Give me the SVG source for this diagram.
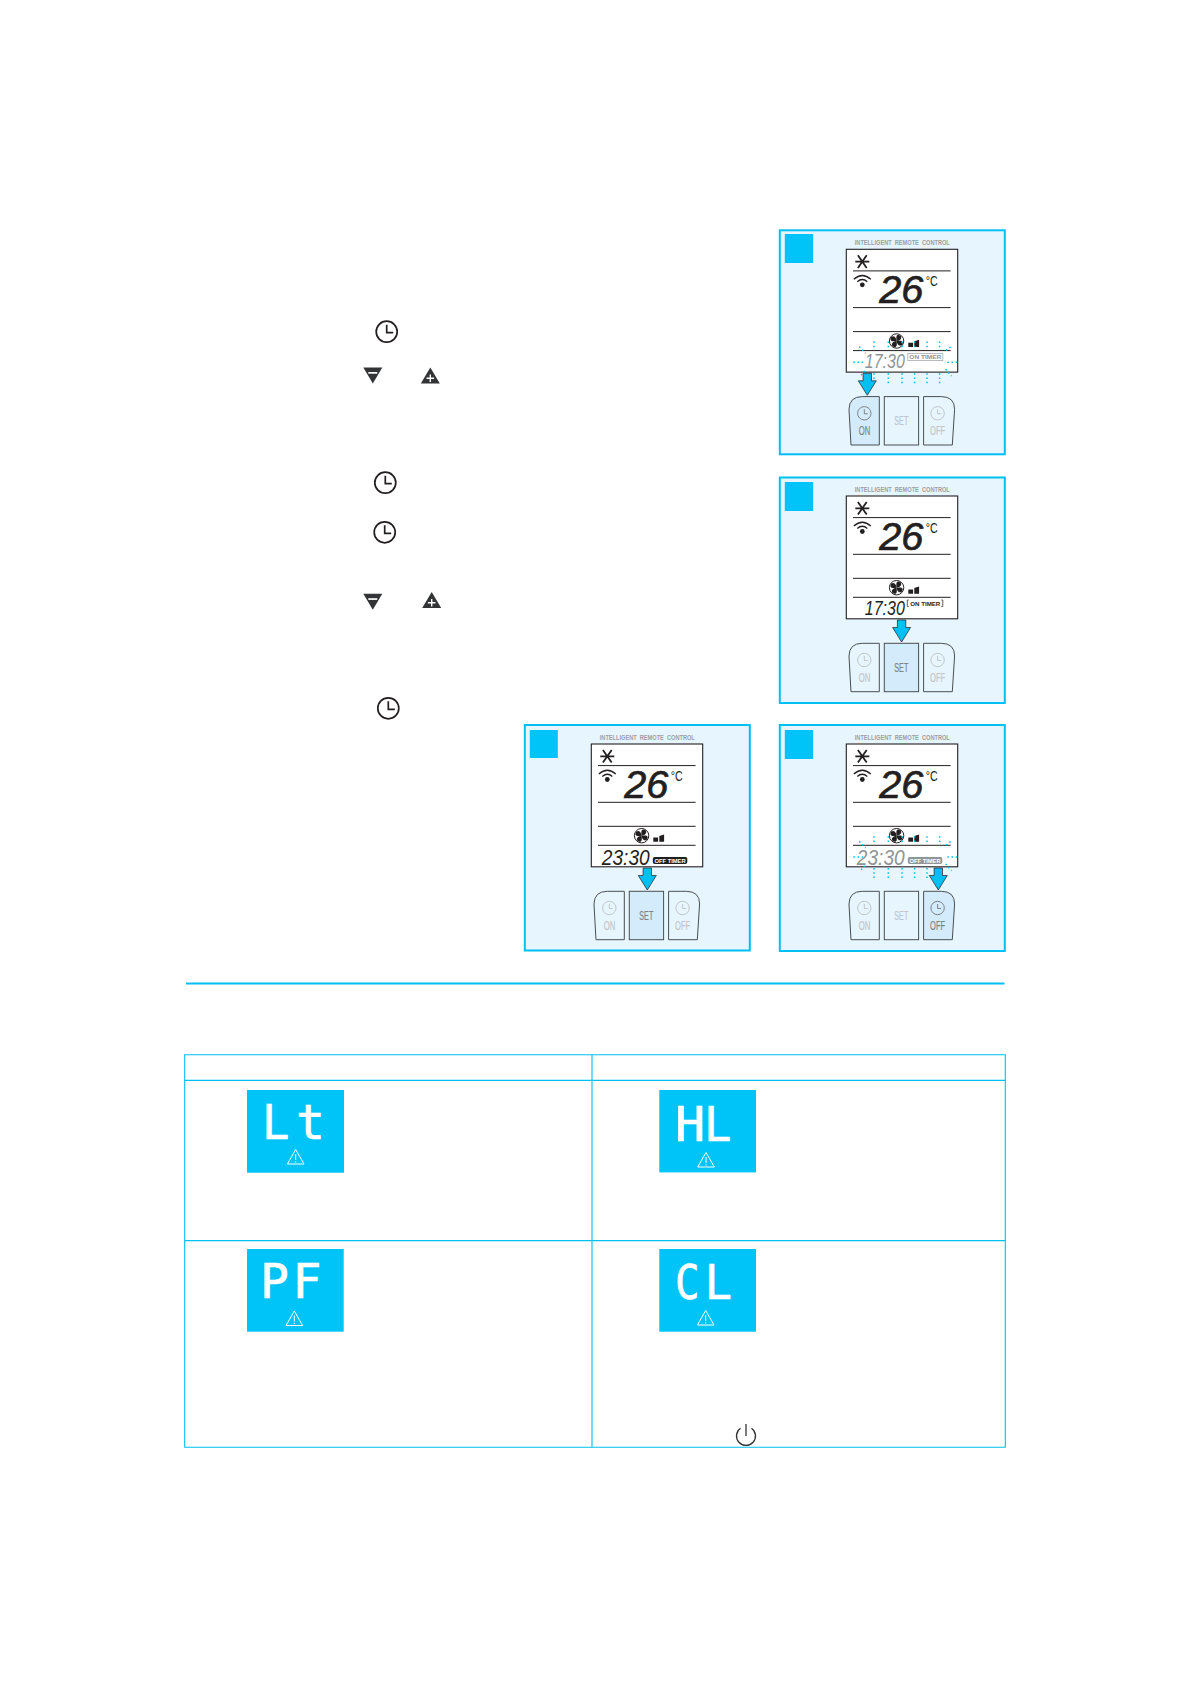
<svg xmlns="http://www.w3.org/2000/svg" width="1190" height="1684" viewBox="0 0 1190 1684">
<style>
text{font-family:"Liberation Sans","DejaVu Sans",sans-serif}
.panel{fill:#e7f5fe;stroke:#00bff3;stroke-width:2}
.sq{fill:#00c4f8}
.lcd{fill:#fff;stroke:#231f20;stroke-width:1.1}
.ln{stroke:#231f20;stroke-width:1;fill:none}
.title{font-size:7px;font-weight:bold;fill:#9a9fa3;text-anchor:middle;white-space:pre}
.temp{font-size:39px;font-style:italic;fill:#231f20;stroke:#231f20;stroke-width:.7}
.deg{font-size:14px;fill:#231f20}
.time{font-style:italic;fill:#231f20}
.off{fill:#8f9599}
.tlab{font-size:6px;font-weight:bold;text-anchor:middle}
.btn{stroke:#4a4f52;stroke-width:1;fill:#e7f5fe}
.act{fill:#d4ebfc}
.bt{font-size:12px;text-anchor:middle;fill:#c2c6c8;stroke:#c2c6c8;stroke-width:.2}
.bta{fill:#7d8387;stroke:#7d8387}
.clk{fill:none;stroke:#c2c6c8;stroke-width:1}
.clka{stroke:#7d8387}
.flash{stroke:#00bff3;stroke-width:1.5;stroke-dasharray:1.5 2.7;fill:none}
.arrow{fill:#00bff3;stroke:#231f20;stroke-width:.7}
.ic{fill:none;stroke:#231f20;stroke-width:1.7}
.tri{fill:#333436}
.grid{fill:none;stroke:#00bff3;stroke-width:1.1}
.disp{fill:#00c4f8}
.seg{font-family:"DejaVu Sans Mono",monospace;font-size:48px;fill:#fff;stroke:#fff;stroke-width:.7}
.warn{fill:none;stroke:#fff;stroke-width:1;stroke-linejoin:round}
</style>
<defs>
<path id="blade" d="M0 0C-1.5 -2.5 -3.5 -5.5 -0.5 -6.5C3.5 -7.3 4.5 -2.5 0 0Z"/>
<g id="lcd-base">
<rect class="lcd" x="0" y="0" width="111.4" height="122.8"/>
<text class="title" x="56" y="-4.3" textLength="95" lengthAdjust="spacingAndGlyphs">INTELLIGENT  REMOTE  CONTROL</text>
<path class="ln" d="M6.7 21.6H104.3M6.7 58.3H104.3M6.7 82.3H104.3M6.7 101.3H104.3"/>
<path d="M9 12.3H23M11.6 6L20.4 18.6M20.4 6L11.6 18.6" fill="none" stroke="#231f20" stroke-width="1.8"/>
<path d="M7.5 30Q16 22.5 24.5 30M11 32.5Q16 28 21 32.5" fill="none" stroke="#231f20" stroke-width="1.3"/>
<circle cx="16" cy="35.5" r="2.4" fill="#231f20"/>
<text class="temp" x="33" y="54" textLength="44" lengthAdjust="spacingAndGlyphs">26</text>
<text class="deg" x="79.5" y="37" textLength="12" lengthAdjust="spacingAndGlyphs">°C</text>
<circle cx="50.3" cy="91.7" r="7.2" fill="#fff" stroke="#231f20" stroke-width="1"/>
<g fill="#231f20" transform="translate(50.3 91.7)">
<use href="#blade" transform="rotate(25)"/>
<use href="#blade" transform="rotate(115)"/>
<use href="#blade" transform="rotate(205)"/>
<use href="#blade" transform="rotate(295)"/>
</g>
<path d="M62 93.5H66.8V97.8H62ZM68 92L72.8 90.5V97.8H68Z" fill="#231f20"/>
</g>
<path id="flash" class="flash" d="M27.7 92.3V100M42 92.3V100M55.7 92.3V100M68.3 92.3V100M80.7 92.3V100M93.3 92.3V100M27.7 124V134M42 124V134M55.7 124V134M68.3 124V134M80.7 124V134M93.3 124V134M7 113H18M101 113H112M13 97.3L19.3 104M104.3 97.7L98.7 102M18.7 121.7L13 127.7M99.3 120L105.3 126.7"/>
<path id="arr" class="arrow" d="M-4.2 124H4.2V131.5H9L0 146L-9 131.5H-4.2Z"/>
<g id="btn-on-shape"><path d="M33 147.3H16Q3 147.3 2.7 160L4.7 195.7H33Z"/></g>
<g id="btn-off-shape"><path d="M77.3 147.3H95Q108.3 147.3 108.3 160L106 195.7H77.3Z"/></g>
<g id="clockface"><circle r="6.7"/><path d="M0 -4V0.5H3.5"/></g>
<g id="ctl"><circle r="10.5" class="ic"/><path class="ic" d="M0 -7V1H6.5"/></g>
<g id="minus"><path class="tri" d="M-9.5 -8H9.5L0 8Z"/><rect x="-4.5" y="-3.5" width="9" height="1.7" fill="#fff"/></g>
<g id="plus"><path class="tri" d="M0 -8L9.5 8H-9.5Z"/><path d="M0 -1V6.5M-3.8 2.8H3.8" stroke="#fff" stroke-width="1.4"/></g>
<g id="warn"><path class="warn" d="M0 0L8.3 14.5H-8.3Z"/><path d="M0 4.5V10.5M0 11.8V13" stroke="#fff" stroke-width="1"/></g>
</defs>
<rect width="1190" height="1684" fill="#fff"/>

<g id="panel-1" transform="translate(846.3 249.3)">
<rect class="panel" x="-66.5" y="-19" width="225" height="224"/>
<rect class="sq" x="-61.5" y="-15.3" width="28.3" height="29"/>
<use href="#lcd-base"/>
<text class="time off" font-size="20" transform="translate(18.5 119) scale(.8 1)">17:30</text>
<rect x="61.5" y="104.3" width="35" height="7" fill="#fff" stroke="#a6abae" stroke-width=".8"/>
<text class="tlab off" x="79" y="110" textLength="32" lengthAdjust="spacingAndGlyphs">ON TIMER</text>
<use href="#flash"/>
<use href="#arr" x="21"/>
<use href="#btn-on-shape" class="btn act"/><use href="#btn-off-shape" class="btn"/><rect class="btn" x="38" y="147.3" width="34.3" height="48.4"/>
<use href="#clockface" x="18" y="164" class="clk clka"/><text class="bt bta" x="18.3" y="186" textLength="11.5" lengthAdjust="spacingAndGlyphs">ON</text>
<text class="bt" x="55" y="176" textLength="14" lengthAdjust="spacingAndGlyphs">SET</text>
<use href="#clockface" x="91.3" y="164" class="clk"/><text class="bt" x="91.3" y="186" textLength="15" lengthAdjust="spacingAndGlyphs">OFF</text>
</g>

<g id="panel-2" transform="translate(846.3 496)">
<rect class="panel" x="-66.5" y="-18.5" width="225" height="225.5"/>
<rect class="sq" x="-61.5" y="-14" width="28.3" height="29"/>
<use href="#lcd-base"/>
<text class="time" font-size="20" transform="translate(18.5 118.5) scale(.8 1)">17:30</text>
<path d="M62.5 104H61V110.5H62.5M95 104H96.5V110.5H95" fill="none" stroke="#231f20" stroke-width=".7"/>
<text class="tlab" fill="#231f20" x="79" y="110" textLength="30" lengthAdjust="spacingAndGlyphs">ON TIMER</text>
<use href="#arr" x="55.3"/>
<use href="#btn-on-shape" class="btn"/><use href="#btn-off-shape" class="btn"/><rect class="btn act" x="38" y="147.3" width="34.3" height="48.4"/>
<use href="#clockface" x="18" y="164" class="clk"/><text class="bt" x="18.3" y="186" textLength="11.5" lengthAdjust="spacingAndGlyphs">ON</text>
<text class="bt bta" x="55" y="176" textLength="14" lengthAdjust="spacingAndGlyphs">SET</text>
<use href="#clockface" x="91.3" y="164" class="clk"/><text class="bt" x="91.3" y="186" textLength="15" lengthAdjust="spacingAndGlyphs">OFF</text>
</g>

<g id="panel-3" transform="translate(591.3 744)">
<rect class="panel" x="-66.5" y="-19" width="225" height="225.5"/>
<rect class="sq" x="-61.5" y="-14" width="28" height="28"/>
<use href="#lcd-base"/>
<text class="time" font-size="22" transform="translate(10.5 121) scale(.87 1)">23:30</text>
<rect x="61.5" y="113" width="34.5" height="7" rx="2" fill="#231f20"/>
<text class="tlab" fill="#fff" x="78.8" y="118.9" textLength="31" lengthAdjust="spacingAndGlyphs">OFF TIMER</text>
<use href="#arr" x="56"/>
<use href="#btn-on-shape" class="btn"/><use href="#btn-off-shape" class="btn"/><rect class="btn act" x="38" y="147.3" width="34.3" height="48.4"/>
<use href="#clockface" x="18" y="164" class="clk"/><text class="bt" x="18.3" y="186" textLength="11.5" lengthAdjust="spacingAndGlyphs">ON</text>
<text class="bt bta" x="55" y="176" textLength="14" lengthAdjust="spacingAndGlyphs">SET</text>
<use href="#clockface" x="91.3" y="164" class="clk"/><text class="bt" x="91.3" y="186" textLength="15" lengthAdjust="spacingAndGlyphs">OFF</text>
</g>

<g id="panel-4" transform="translate(846.3 744)">
<rect class="panel" x="-66.5" y="-19" width="225" height="226"/>
<rect class="sq" x="-61.5" y="-14" width="28.3" height="29"/>
<use href="#lcd-base"/>
<text class="time off" font-size="22" transform="translate(10.5 121) scale(.87 1)">23:30</text>
<rect x="61.5" y="113" width="34.5" height="7" rx="2" fill="#8f9599"/>
<text class="tlab" fill="#fff" x="78.8" y="118.9" textLength="31" lengthAdjust="spacingAndGlyphs">OFF TIMER</text>
<use href="#flash"/>
<use href="#arr" x="92"/>
<use href="#btn-on-shape" class="btn"/><use href="#btn-off-shape" class="btn act"/><rect class="btn" x="38" y="147.3" width="34.3" height="48.4"/>
<use href="#clockface" x="18" y="164" class="clk"/><text class="bt" x="18.3" y="186" textLength="11.5" lengthAdjust="spacingAndGlyphs">ON</text>
<text class="bt" x="55" y="176" textLength="14" lengthAdjust="spacingAndGlyphs">SET</text>
<use href="#clockface" x="91.3" y="164" class="clk clka"/><text class="bt bta" x="91.3" y="186" textLength="15" lengthAdjust="spacingAndGlyphs">OFF</text>
</g>

<g id="inline-icons">
<use href="#ctl" x="386.7" y="331.7"/>
<use href="#minus" x="372.8" y="375.5"/>
<use href="#plus" x="430.3" y="375.5"/>
<use href="#ctl" x="385.3" y="482.7"/>
<use href="#ctl" x="384.7" y="532.3"/>
<use href="#minus" x="372.8" y="601.7"/>
<use href="#plus" x="431.7" y="600"/>
<use href="#ctl" x="388.3" y="708.3"/>
</g>

<path id="divider" d="M186 983.5H1004.5" stroke="#00bff3" stroke-width="1.8" fill="none"/>

<g id="table">
<path class="grid" d="M184.7 1054.7H1005.3V1447.3H184.7ZM184.7 1080.4H1005.3M184.7 1240.6H1005.3M592 1054.7V1447.3"/>
</g>

<g id="code-lt">
<rect class="disp" x="247" y="1090" width="97" height="82.7"/>
<text class="seg" transform="translate(262 1138.5) scale(.95 1)">L</text><text class="seg" transform="translate(296 1138.5)">t</text>
<use href="#warn" x="295.7" y="1149.5"/>
</g>
<g id="code-hl">
<rect class="disp" x="659.3" y="1090" width="96.7" height="82.4"/>
<text class="seg" transform="translate(675 1141) scale(1.05 1)">H</text><text class="seg" transform="translate(704 1141) scale(.95 1)">L</text>
<use href="#warn" x="706" y="1152.5"/>
</g>
<g id="code-pf">
<rect class="disp" x="247" y="1249" width="96.7" height="82.7"/>
<text class="seg" transform="translate(260 1298)">P</text><text class="seg" transform="translate(292.6 1298)">F</text>
<use href="#warn" x="294.3" y="1311"/>
</g>
<g id="code-cl">
<rect class="disp" x="659.3" y="1249" width="96.7" height="82.7"/>
<text class="seg" transform="translate(675 1299) scale(.85 1)">C</text><text class="seg" transform="translate(704.5 1299) scale(.95 1)">L</text>
<use href="#warn" x="705.7" y="1310.5"/>
</g>

<g id="power-icon" fill="none" stroke="#333436" stroke-width="1.3">
<path d="M740.5 1428.2A9.5 9.5 0 1 0 751.5 1428.2"/>
<path d="M746 1424V1436"/>
</g>
</svg>
